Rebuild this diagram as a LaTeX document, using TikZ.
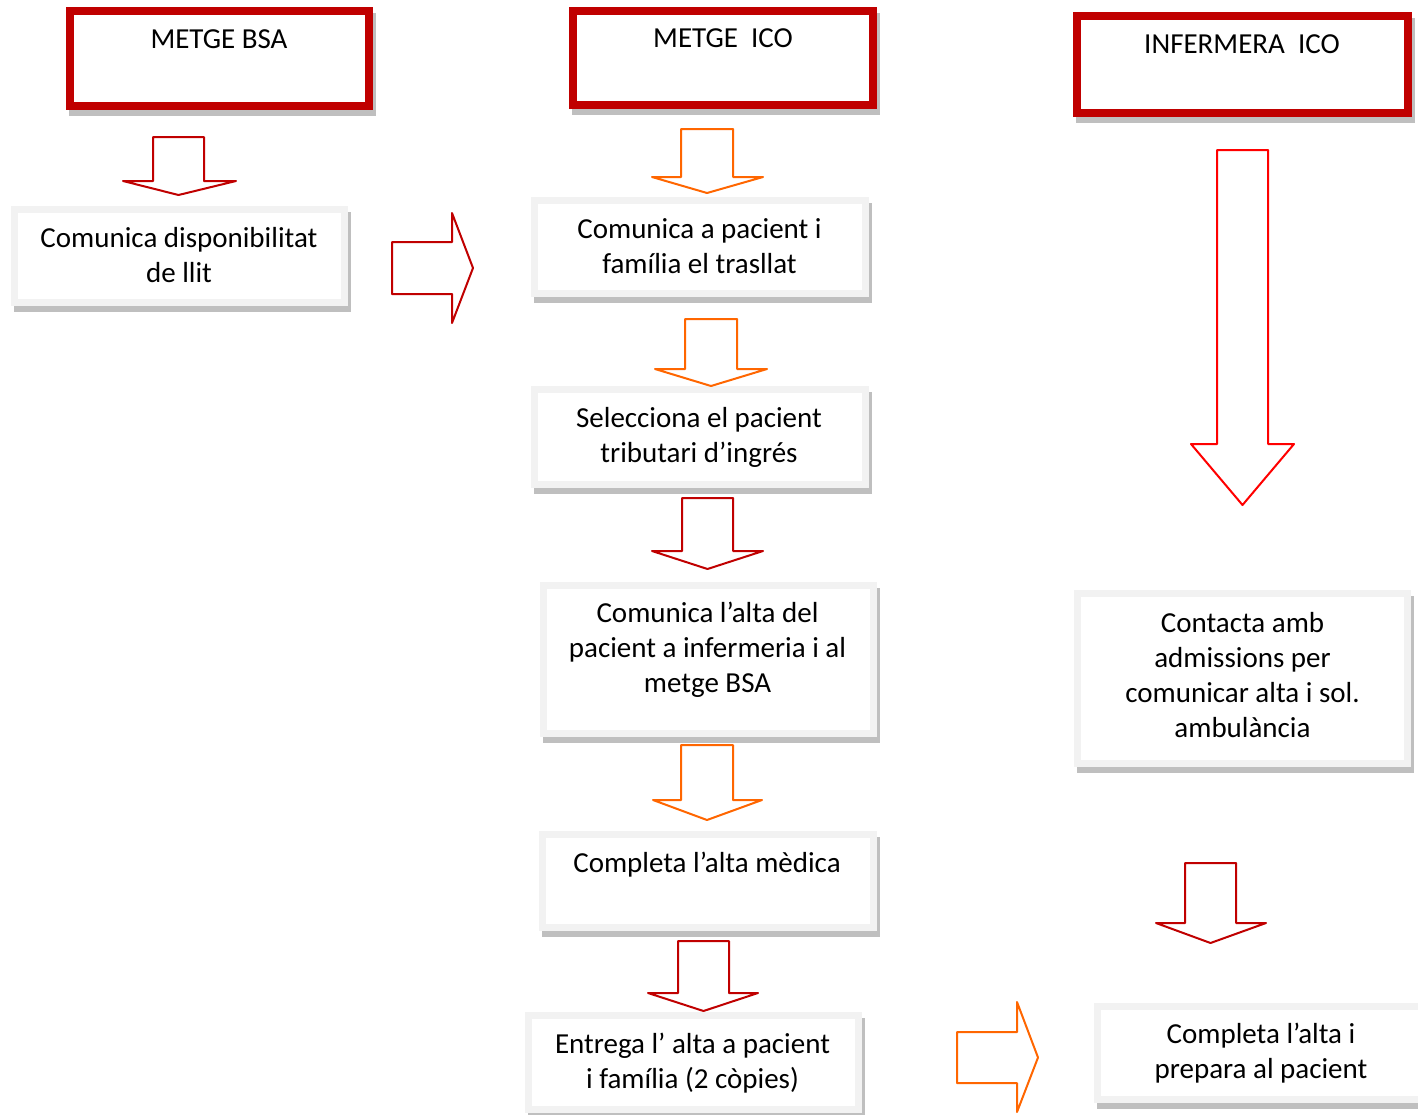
\documentclass[tikz,border=0pt]{standalone}
\usepackage{fontspec}
\setmainfont{Carlito}
\definecolor{hred}{HTML}{C00000}
\definecolor{dred}{HTML}{C00000}
\definecolor{bred}{HTML}{FF0000}
\definecolor{orng}{HTML}{FF6600}
\definecolor{lgray}{HTML}{F2F2F2}
\definecolor{sgray}{HTML}{BFBFBF}
\newcommand\dnarrow[8]{%
  \draw[arrline,#1] (#2,#4) -- (#3,#4) -- (#3,#5) -- (#7,#5) -- ({(#2+#3)/2},#8) -- (#6,#5) -- (#2,#5) -- cycle;}
\newcommand\rtarrow[8]{%
  \draw[arrline,#1] (#2,#4) -- (#3,#4) -- (#3,#6) -- (#8,{(#4+#5)/2}) -- (#3,#7) -- (#3,#5) -- (#2,#5) -- cycle;}
\tikzset{
  arrline/.style={line width=2pt, fill=white, line join=round},
  headbox/.style={rectangle, draw=hred, line width=8pt, fill=white, inner sep=0pt, outer sep=0pt,
    preaction={draw=sgray, fill=sgray, line width=8pt, transform canvas={shift={(3pt,-6pt)}}}},
  graybox/.style={rectangle, draw=lgray, line width=7pt, fill=white, inner sep=0pt, outer sep=0pt,
    preaction={draw=sgray, fill=sgray, line width=7pt, transform canvas={shift={(3pt,-6pt)}}}},
  txt/.style={font=\fontsize{29}{35}\selectfont, align=center, inner sep=0pt, text=black},
}
\begin{document}
\begin{tikzpicture}[x=1pt,y=-1pt]
\useasboundingbox[fill=white] (0,0) rectangle (1418,1114);
% header boxes
\node[headbox, minimum width=299pt, minimum height=95pt] (hbsa) at (219.5,58) {};
\node[txt] (hbsat) at (219,41) {\strut METGE BSA\strut};
\node[headbox, minimum width=300pt, minimum height=94.5pt] (hico) at (723,57.75) {};
\node[txt] (hicot) at (723,40) {\strut METGE~~ICO\strut};
\node[headbox, minimum width=331pt, minimum height=97pt] (hinf) at (1242.5,64.5) {};
\node[txt] (hinft) at (1242,46) {\strut INFERMERA~~ICO\strut};
% gray boxes
\node[graybox, minimum width=330pt, minimum height=93pt] (a) at (179.5,256) {};
\node[txt] (at) at (179,257.5) {\strut Comunica disponibilitat\\de llit\strut};
\node[graybox, minimum width=331pt, minimum height=93pt] (b) at (700,247) {};
\node[txt] (bt) at (699.5,248.5) {\strut Comunica a pacient i\\família el trasllat\strut};
\node[graybox, minimum width=331pt, minimum height=95pt] (c) at (700,437) {};
\node[txt] (ct) at (699,438) {\strut Selecciona el pacient\\tributari d’ingrés\strut};
\node[graybox, minimum width=330pt, minimum height=148pt] (d) at (708,659) {};
\node[txt] (dt) at (707.5,650.7) {\strut Comunica l’alta del\\pacient a infermeria i al\\metge BSA\strut};
\node[graybox, minimum width=331pt, minimum height=92.5pt] (e) at (708,881) {};
\node[txt] (et) at (707,865) {\strut Completa l’alta mèdica\strut};
\node[graybox, minimum width=330pt, minimum height=94pt] (f) at (693.5,1062.5) {};
\node[txt] (ft) at (692.5,1064) {\strut Entrega l’ alta a pacient\\i família (2 còpies)\strut};
\node[graybox, minimum width=330pt, minimum height=170pt] (g) at (1242,678) {};
\node[txt] (gt) at (1242.5,677.5) {\strut Contacta amb\\admissions per\\comunicar alta i sol.\\ambulància\strut};
\node[graybox, minimum width=328pt, minimum height=93pt] (h) at (1261,1052.5) {};
\node[txt] (ht) at (1261,1054) {\strut Completa l’alta i\\prepara al pacient\strut};
% down arrows
\dnarrow{draw=dred}{153}{204}{137}{181}{123}{236}{195}
\dnarrow{draw=orng}{681}{733}{129}{177}{652}{763}{193}
\dnarrow{draw=orng}{685}{737}{319}{369}{655}{767}{386}
\dnarrow{draw=dred}{682}{733}{498}{551}{652}{763}{569}
\dnarrow{draw=orng}{681}{733}{745}{800}{653}{762}{820}
\dnarrow{draw=dred}{678}{729}{941}{993}{648}{758}{1011}
\dnarrow{draw=dred}{1185}{1236}{863}{923}{1156}{1266}{943}
\dnarrow{draw=bred}{1217}{1268}{150}{444}{1191}{1294}{505}
% right arrows
\rtarrow{draw=dred}{392}{452}{242}{294}{213}{323}{473}
\rtarrow{draw=orng}{957}{1017}{1032}{1083}{1002}{1112}{1038}
\end{tikzpicture}
\end{document}
